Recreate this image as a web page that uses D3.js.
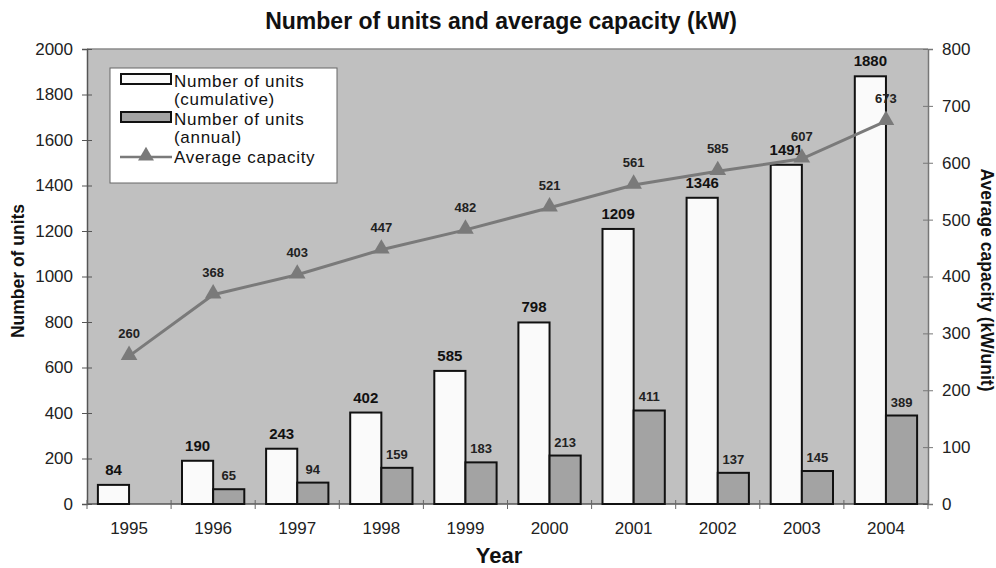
<!DOCTYPE html>
<html>
<head>
<meta charset="utf-8">
<script src="https://cdn.jsdelivr.net/npm/d3@7"></script>
<style>
  body { margin: 0; background: #fff; }
  text { font-family: "Liberation Sans", Arial, sans-serif; }
</style>
</head>
<body>
<svg id="chart" width="996" height="568"></svg>
<script>
// data
const years = ["1995","1996","1997","1998","1999","2000","2001","2002","2003","2004"]
const cumulativeUnits = [84, 190, 243, 402, 585, 798, 1209, 1346, 1491, 1880]
const annualUnits = [null, 65, 94, 159, 183, 213, 411, 137, 145, 389]
const avgCapacity = [260, 368, 403, 447, 482, 521, 561, 585, 607, 673]
const leftTicks = [0, 200, 400, 600, 800, 1000, 1200, 1400, 1600, 1800, 2000]
const rightTicks = [0, 100, 200, 300, 400, 500, 600, 700, 800]

const svg = d3.select("#chart")
const plot = {left: 87, right: 928, top: 49, bottom: 504}

const x = d3.scaleBand().domain(years).range([plot.left, plot.right]).paddingInner(0).paddingOuter(0)
const sub = d3.scaleBand().domain(["cum", "ann"]).range([0, x.bandwidth()]).paddingOuter(0.35).paddingInner(0)
const yLeft = d3.scaleLinear().domain([0, 2000]).range([plot.bottom, plot.top])
const yRight = d3.scaleLinear().domain([0, 800]).range([plot.bottom, plot.top])

// plot background
svg.append("rect")
    .attr("x", plot.left).attr("y", plot.top)
    .attr("width", plot.right - plot.left).attr("height", plot.bottom - plot.top)
    .attr("fill", "#c0c0c0")
svg.append("line")
    .attr("x1", plot.left).attr("x2", plot.right)
    .attr("y1", plot.top).attr("y2", plot.top)
    .attr("stroke", "#8a8a8a").attr("stroke-width", 1.5)

// title
svg.append("text")
    .attr("x", 501).attr("y", 29)
    .attr("text-anchor", "middle")
    .attr("font-size", 23).attr("font-weight", "bold").attr("fill", "#111")
    .text("Number of units and average capacity (kW)")

// left axis
const leftAxis = svg.append("g")
    .attr("transform", "translate(" + plot.left + ",0)")
    .call(d3.axisLeft(yLeft).tickValues(leftTicks).tickFormat(d3.format("d")).tickSize(5).tickPadding(9))
leftAxis.select(".domain").attr("stroke", "#555").attr("stroke-width", 1.5)
leftAxis.selectAll(".tick line").attr("stroke", "#555").attr("x1", 5)
leftAxis.selectAll(".tick text").attr("font-size", 17).attr("fill", "#222")
    .attr("font-family", "Liberation Sans, Arial, sans-serif")

// right axis
const rightAxis = svg.append("g")
    .attr("transform", "translate(" + plot.right + ",0)")
    .call(d3.axisRight(yRight).tickValues(rightTicks).tickFormat(d3.format("d")).tickSize(5).tickPadding(9))
rightAxis.select(".domain").attr("stroke", "#777").attr("stroke-width", 1.5)
rightAxis.selectAll(".tick line").attr("stroke", "#777").attr("x1", -5)
rightAxis.selectAll(".tick text").attr("font-size", 17).attr("fill", "#222")
    .attr("font-family", "Liberation Sans, Arial, sans-serif")

// bottom axis: ticks sit at band boundaries
const bottom = svg.append("g").attr("transform", "translate(0," + plot.bottom + ")")
bottom.append("line")
    .attr("x1", plot.left).attr("x2", plot.right)
    .attr("stroke", "#555").attr("stroke-width", 1.5)
const boundaries = years.map(d => x(d)).concat([plot.right])
bottom.selectAll("line.tk").data(boundaries).join("line")
    .attr("class", "tk")
    .attr("x1", d => d).attr("x2", d => d)
    .attr("y1", -4).attr("y2", 5)
    .attr("stroke", "#666")
bottom.selectAll("text.yr").data(years).join("text")
    .attr("class", "yr")
    .attr("x", d => x(d) + x.bandwidth() / 2)
    .attr("y", 30)
    .attr("text-anchor", "middle")
    .attr("font-size", 17).attr("fill", "#222")
    .text(d => d)

// axis titles
svg.append("text")
    .attr("transform", "translate(24,271)rotate(-90)")
    .attr("text-anchor", "middle")
    .attr("font-size", 17.5).attr("font-weight", "bold").attr("fill", "#111")
    .text("Number of units")
svg.append("text")
    .attr("transform", "translate(981,280)rotate(90)")
    .attr("text-anchor", "middle")
    .attr("font-size", 17.5).attr("font-weight", "bold").attr("fill", "#111")
    .text("Average capacity (kW/unit)")
svg.append("text")
    .attr("x", 499).attr("y", 563)
    .attr("text-anchor", "middle")
    .attr("font-size", 22).attr("font-weight", "bold").attr("fill", "#111")
    .text("Year")

// bars
const groups = svg.selectAll("g.year").data(years).join("g")
    .attr("class", "year")
    .attr("transform", d => "translate(" + x(d) + ",0)")

groups.append("rect")
    .attr("x", sub("cum"))
    .attr("y", (d, i) => yLeft(cumulativeUnits[i]))
    .attr("width", sub.bandwidth())
    .attr("height", (d, i) => plot.bottom - yLeft(cumulativeUnits[i]))
    .attr("fill", "#fafafa").attr("stroke", "#111").attr("stroke-width", 2)

groups.filter((d, i) => annualUnits[i] !== null)
    .append("rect")
    .attr("x", sub("ann"))
    .attr("y", d => yLeft(annualUnits[years.indexOf(d)]))
    .attr("width", sub.bandwidth())
    .attr("height", d => plot.bottom - yLeft(annualUnits[years.indexOf(d)]))
    .attr("fill", "#a3a3a3").attr("stroke", "#111").attr("stroke-width", 2)

groups.append("text")
    .attr("x", sub("cum") + sub.bandwidth() / 2)
    .attr("y", (d, i) => yLeft(cumulativeUnits[i]) - 10)
    .attr("text-anchor", "middle")
    .attr("font-size", 15).attr("font-weight", "bold").attr("fill", "#111")
    .text((d, i) => cumulativeUnits[i])

groups.filter((d, i) => annualUnits[i] !== null)
    .append("text")
    .attr("x", sub("ann") + sub.bandwidth() / 2)
    .attr("y", d => yLeft(annualUnits[years.indexOf(d)]) - 9)
    .attr("text-anchor", "middle")
    .attr("font-size", 13).attr("font-weight", "bold").attr("fill", "#222")
    .text(d => annualUnits[years.indexOf(d)])

// average capacity line
const cx = d => x(d) + x.bandwidth() / 2
const line = d3.line()
    .x((d, i) => cx(years[i]))
    .y(d => yRight(d))
svg.append("path")
    .datum(avgCapacity)
    .attr("d", line)
    .attr("fill", "none").attr("stroke", "#7a7a7a").attr("stroke-width", 3)

svg.selectAll("path.tri").data(avgCapacity).join("path")
    .attr("class", "tri")
    .attr("d", d3.symbol().type(d3.symbolTriangle).size(120))
    .attr("transform", (d, i) => "translate(" + cx(years[i]) + "," + (yRight(d) - 1) + ")")
    .attr("fill", "#7a7a7a")

svg.selectAll("text.cap").data(avgCapacity).join("text")
    .attr("class", "cap")
    .attr("x", (d, i) => cx(years[i]))
    .attr("y", d => yRight(d) - 18)
    .attr("text-anchor", "middle")
    .attr("font-size", 13).attr("font-weight", "bold").attr("fill", "#222")
    .text(d => d)

// legend
const legend = svg.append("g").attr("transform", "translate(110,68)")
legend.append("rect")
    .attr("width", 227).attr("height", 115)
    .attr("fill", "#fff").attr("stroke", "#666").attr("stroke-width", 1)

const legendItems = [
    {label: ["Number of units", "(cumulative)"], kind: "cum", y: 19},
    {label: ["Number of units", "(annual)"], kind: "ann", y: 57},
    {label: ["Average capacity"], kind: "line", y: 95}
]
legendItems.forEach(item => {
    if (item.kind === "line") {
        legend.append("line")
            .attr("x1", 10).attr("x2", 62)
            .attr("y1", item.y - 6).attr("y2", item.y - 6)
            .attr("stroke", "#7a7a7a").attr("stroke-width", 2.5)
        legend.append("path")
            .attr("d", d3.symbol().type(d3.symbolTriangle).size(110))
            .attr("transform", "translate(36," + (item.y - 7) + ")")
            .attr("fill", "#7a7a7a")
    } else {
        legend.append("rect")
            .attr("x", 11).attr("y", item.y - 13)
            .attr("width", 50).attr("height", 10)
            .attr("fill", item.kind === "cum" ? "#fafafa" : "#a3a3a3")
            .attr("stroke", "#111").attr("stroke-width", 2)
    }
    item.label.forEach((t, j) => {
        legend.append("text")
            .attr("x", 64).attr("y", item.y + j * 18)
            .attr("font-size", 17).attr("letter-spacing", 0.7).attr("fill", "#111")
            .text(t)
    })
})
</script>
</body>
</html>
